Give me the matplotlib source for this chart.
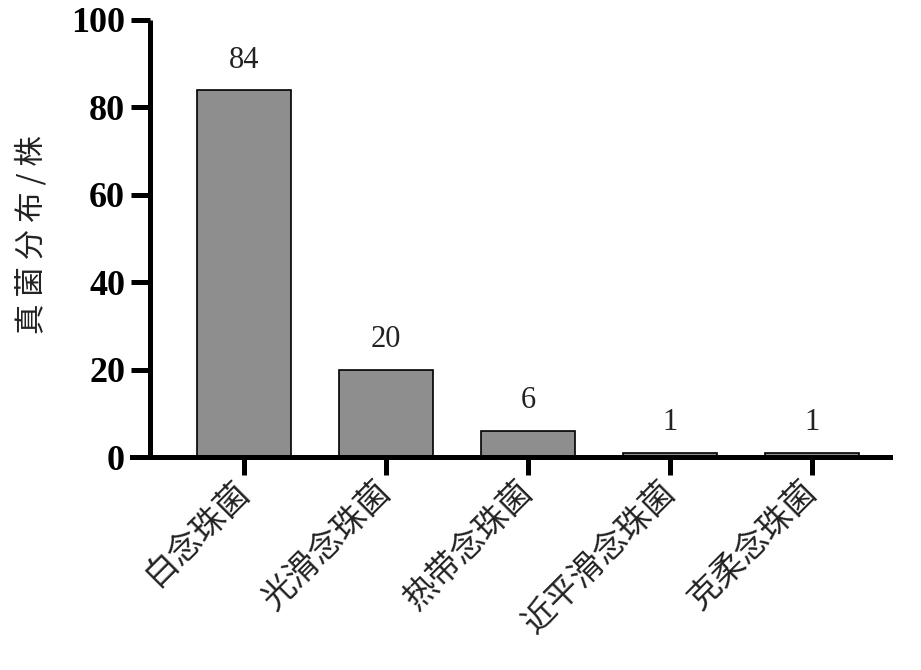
"""
真菌分布柱状图
"""

import matplotlib
matplotlib.use("Agg")
import matplotlib.pyplot as plt

# 数据
species = ['白念珠菌', '光滑念珠菌', '热带念珠菌', '近平滑念珠菌', '克柔念珠菌']
counts = [84, 20, 6, 1, 1]
y_ticks = [0, 20, 40, 60, 80, 100]

plt.rcParams['font.family'] = ['Liberation Serif', 'Noto Sans CJK SC', 'DejaVu Sans']
cjk = ['Noto Sans CJK SC', 'DejaVu Sans']

fig = plt.figure(figsize=(9.21, 6.70), dpi=100)
ax = fig.add_axes([132 / 921, 1 - 457 / 670, (890 - 132) / 921, (457 - 20) / 670])

x = list(range(len(species)))
ax.bar(x, counts, width=0.66, color='#8e8e8e', edgecolor='black', linewidth=1.2, zorder=2)

# 柱顶数值
for xi, c in zip(x, counts):
    ax.text(xi, c + 3.5, str(c), ha='center', va='bottom', fontsize=22, color='#222222')

ax.set_xlim(-0.789, 4.55)
ax.set_ylim(0, 100)
ax.set_yticks(y_ticks)
ax.set_xticks(x)

ax.spines['top'].set_visible(False)
ax.spines['right'].set_visible(False)
ax.spines['left'].set_position(('data', -0.662))
ax.spines['left'].set_linewidth(3.6)
ax.spines['bottom'].set_linewidth(3.6)
ax.spines['left'].set_capstyle('butt')

ax.tick_params(axis='y', length=14, width=3.6, pad=4, labelsize=26)
ax.tick_params(axis='x', length=13, width=3.6, pad=8)

ax.set_yticklabels([str(t) for t in y_ticks], fontsize=26, fontweight='bold')
ax.set_xticklabels(species, rotation=45, ha='right', va='center', rotation_mode='anchor',
                   fontsize=24, family=cjk, fontweight='light', color='#222222')

ax.set_ylabel('真 菌 分 布 / 株', fontsize=22, family=cjk, fontweight='light', color='#222222')
ax.yaxis.set_label_coords(-0.112, 0.508)

fig.savefig('out.png', dpi=100)
